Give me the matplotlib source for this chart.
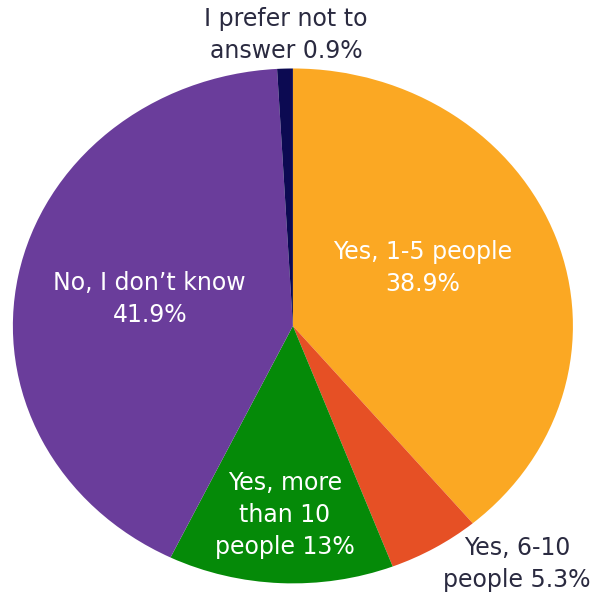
import matplotlib.pyplot as plt

labels = ['Yes, 1-5 people\n38.9%', 'Yes, 6-10\npeople 5.3%', 'Yes, more\nthan 10\npeople 13%',
          'No, I don\u2019t know\n41.9%', 'I prefer not to\nanswer 0.9%']
shares = [38.9, 5.3, 13.0, 41.9, 0.9]
colors = ['#FBA823', '#E65025', '#058A08', '#6A3D9B', '#0C0A52']
text_colors = ['white', '#2a2a40', 'white', 'white', '#2a2a40']
label_pos = [(0.464, 0.225), (0.80, -0.925), (-0.029, -0.734), (-0.511, 0.105), (-0.025, 1.13)]

plt.rcParams['font.family'] = ['DejaVu Sans']

fig = plt.figure(figsize=(5.97, 5.96), dpi=100)
ax = fig.add_axes([0, 0, 1, 1])
ax.pie(shares, colors=colors, startangle=90, counterclock=False,
       wedgeprops={'linewidth': 0})
ax.set_aspect('auto')
ax.set_xlim(-1.046, 1.086)
ax.set_ylim(-1.049, 1.266)

for lab, pos, tc in zip(labels, label_pos, text_colors):
    ax.text(pos[0], pos[1], lab, color=tc, fontsize=17, ha='center', va='center',
            linespacing=1.4)

fig.savefig('out.png', dpi=100)
